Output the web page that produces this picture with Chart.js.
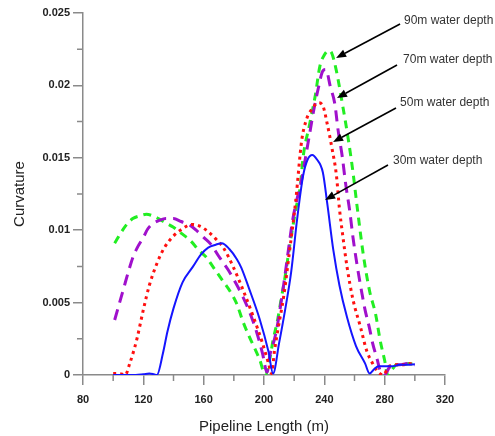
<!DOCTYPE html>
<html>
<head>
<meta charset="utf-8">
<script src="https://cdn.jsdelivr.net/npm/chart.js@4.4.1/dist/chart.umd.min.js"></script>
<style>
  html, body { margin: 0; padding: 0; background: #fff; }
  #wrap { width: 495px; height: 436px; }
</style>
</head>
<body>
<div id="wrap"><canvas id="curvature"></canvas></div>
<script>
// Curvature along the pipeline for four water depths
const depth30X = [100, 105, 110, 115, 120, 124, 127, 129, 133, 136, 140, 146, 153, 158, 163, 168, 172, 177, 182, 185, 190, 197, 203, 206, 210, 214, 218, 222, 226, 229, 232, 235, 239, 242, 246, 250, 255, 261, 267, 270, 273, 276, 280, 285, 290, 295, 300];
const depth30Y = [0, 0, 0, 0, 0.00005, 0.0001, 0.00005, 0, 0.0015, 0.003, 0.0046, 0.0064, 0.0075, 0.0083, 0.0088, 0.009, 0.0091, 0.0087, 0.008, 0.0074, 0.006, 0.0039, 0.0016, 0.0001, 0.0022, 0.0045, 0.0071, 0.0108, 0.0138, 0.0149, 0.0152, 0.0149, 0.014, 0.0118, 0.0086, 0.0062, 0.004, 0.002, 0.0008, 0.0001, 0.0004, 0.0006, 0.0006, 0.0006, 0.0007, 0.0007, 0.00075];

const depth50X = [100, 104, 108, 111, 114, 116, 120, 124, 129, 134, 140, 146, 152, 157, 163, 168, 173, 179, 186, 193, 199, 203, 205, 207, 209, 213, 217, 221, 225, 228, 232, 236, 239, 242, 245, 248, 250, 252, 255, 259, 264, 268, 272, 275, 279, 283, 287, 292, 296, 300];
const depth50Y = [0.0001, 0.0001, 0, 0.0008, 0.0018, 0.0026, 0.0045, 0.0062, 0.0077, 0.0088, 0.0096, 0.0101, 0.0104, 0.0103, 0.0099, 0.0094, 0.0088, 0.0076, 0.0059, 0.004, 0.0022, 0.0008, 0.0001, 0.0017, 0.003, 0.0054, 0.0086, 0.012, 0.0162, 0.0176, 0.0184, 0.0188, 0.0186, 0.0173, 0.0157, 0.0138, 0.0115, 0.0098, 0.0075, 0.0052, 0.0033, 0.0017, 0.0008, 0.0003, 0, 0.0006, 0.0007, 0.0007, 0.0008, 0.0007];

const depth70X = [101, 104, 107, 110, 113, 116, 120, 123, 127, 131, 135, 140, 145, 150, 155, 160, 165, 170, 176, 181, 186, 191, 195, 199, 202, 204, 207, 209, 213, 216, 219, 222, 225, 227, 230, 233, 236, 239, 241, 244, 247, 249, 252, 254, 257, 259, 262, 265, 267, 270, 272, 275, 277, 280, 283, 286, 290, 295, 300];
const depth70Y = [0.0038, 0.0049, 0.006, 0.0071, 0.0081, 0.0088, 0.0095, 0.0101, 0.0105, 0.0107, 0.0108, 0.0108, 0.0106, 0.0104, 0.01, 0.0095, 0.009, 0.0082, 0.0073, 0.0064, 0.0054, 0.0042, 0.003, 0.0015, 0.0002, 0.0014, 0.0025, 0.0035, 0.0062, 0.0085, 0.0107, 0.0122, 0.0135, 0.0147, 0.0165, 0.0183, 0.0198, 0.021, 0.0211, 0.0199, 0.0187, 0.017, 0.015, 0.0133, 0.0112, 0.0095, 0.0074, 0.0056, 0.0045, 0.0032, 0.0022, 0.0011, 0.0003, 0, 0.0005, 0.0007, 0.0007, 0.0008, 0.0007];

const depth90X = [101, 105, 109, 113, 118, 122, 126, 130, 135, 140, 145, 151, 157, 162, 166, 172, 178, 182, 186, 190, 194, 197, 201, 204, 206, 209, 211, 214, 217, 221, 224, 226, 230, 234, 237, 240, 243, 245, 248, 252, 256, 259, 262, 266, 270, 274, 277, 280, 282, 285, 288, 292, 296, 300];
const depth90Y = [0.0091, 0.0098, 0.0104, 0.0108, 0.011, 0.0111, 0.011, 0.0108, 0.0105, 0.0102, 0.0098, 0.0093, 0.0086, 0.0081, 0.0075, 0.0066, 0.0057, 0.0049, 0.0037, 0.0027, 0.0018, 0.0011, 0, 0.0012, 0.0024, 0.0038, 0.005, 0.0068, 0.0089, 0.0114, 0.013, 0.0151, 0.0172, 0.0193, 0.0213, 0.0221, 0.0224, 0.0222, 0.021, 0.0187, 0.0162, 0.014, 0.0114, 0.0082, 0.0058, 0.0042, 0.0024, 0.001, 0, 0.0004, 0.0007, 0.0007, 0.0008, 0.0007];

const xTicks = [80, 120, 160, 200, 240, 280, 320];
const yTicks = [0, 0.005, 0.01, 0.015, 0.02, 0.025];

// label text, arrow tail, arrow tip and text anchor in data units
const callouts = [
    { text: '90m water depth', tail: [290.2, 0.02424], tip: [247.8, 0.0219], at: [292.8, 0.0245] },
    { text: '70m water depth', tail: [288.2, 0.02141], tip: [248.4, 0.01913], at: [292.2, 0.02175] },
    { text: '50m water depth', tail: [287.5, 0.01844], tip: [245.8, 0.01609], at: [290.2, 0.01878] },
    { text: '30m water depth', tail: [282.2, 0.0145], tip: [240.5, 0.01209], at: [285.5, 0.01478] }
];

function toPoints(xs, ys) {
    return xs.map((x, i) => ({ x: x, y: ys[i] }));
}

const axisGray = '#8a8a8a';

// small ticks halfway between the labelled ones
const minorTicks = {
    id: 'minorTicks',
    afterDraw(chart) {
        const { ctx, scales: { x, y } } = chart;
        ctx.save();
        ctx.strokeStyle = axisGray;
        ctx.lineWidth = 1.5;
        ctx.beginPath();
        for (let i = 0; i < xTicks.length - 1; i++) {
            const px = x.getPixelForValue((xTicks[i] + xTicks[i + 1]) / 2);
            ctx.moveTo(px, y.bottom);
            ctx.lineTo(px, y.bottom + 6);
        }
        for (let i = 0; i < yTicks.length - 1; i++) {
            const py = y.getPixelForValue((yTicks[i] + yTicks[i + 1]) / 2);
            ctx.moveTo(x.left, py);
            ctx.lineTo(x.left - 6, py);
        }
        ctx.stroke();
        ctx.restore();
    }
};

// depth labels with arrows pointing at each curve
const depthCallouts = {
    id: 'depthCallouts',
    afterDraw(chart) {
        const { ctx, scales: { x, y } } = chart;
        ctx.save();
        ctx.strokeStyle = '#000';
        ctx.fillStyle = '#000';
        ctx.lineWidth = 1.6;
        for (const c of callouts) {
            const x0 = x.getPixelForValue(c.tail[0]), y0 = y.getPixelForValue(c.tail[1]);
            const x1 = x.getPixelForValue(c.tip[0]), y1 = y.getPixelForValue(c.tip[1]);
            const ang = Math.atan2(y1 - y0, x1 - x0);
            const head = 10, half = 4;
            const bx = x1 - head * Math.cos(ang), by = y1 - head * Math.sin(ang);
            ctx.beginPath();
            ctx.moveTo(x0, y0);
            ctx.lineTo(bx, by);
            ctx.stroke();
            ctx.beginPath();
            ctx.moveTo(x1, y1);
            ctx.lineTo(bx + half * Math.sin(ang), by - half * Math.cos(ang));
            ctx.lineTo(bx - half * Math.sin(ang), by + half * Math.cos(ang));
            ctx.closePath();
            ctx.fill();
        }
        ctx.fillStyle = '#333';
        ctx.font = '12px "Liberation Sans", Arial, sans-serif';
        ctx.textBaseline = 'middle';
        ctx.textAlign = 'left';
        for (const c of callouts) {
            ctx.fillText(c.text, x.getPixelForValue(c.at[0]), y.getPixelForValue(c.at[1]));
        }
        ctx.restore();
    }
};

const tickFont = { family: '"Liberation Sans", Arial, sans-serif', size: 11, weight: 'bold' };
const titleFont = { family: '"Liberation Sans", Arial, sans-serif', size: 15 };

const lineBase = { showLine: true, pointRadius: 0, cubicInterpolationMode: 'monotone' };

new Chart(document.getElementById('curvature'), {
    type: 'scatter',
    data: {
        datasets: [
            { ...lineBase, label: '30m', data: toPoints(depth30X, depth30Y), borderColor: '#1515ff', borderWidth: 2 },
            { ...lineBase, label: '50m', data: toPoints(depth50X, depth50Y), borderColor: '#ff1010', borderWidth: 3, borderDash: [3, 4] },
            { ...lineBase, label: '70m', data: toPoints(depth70X, depth70Y), borderColor: '#a010cc', borderWidth: 3, borderDash: [11, 7] },
            { ...lineBase, label: '90m', data: toPoints(depth90X, depth90Y), borderColor: '#22ee22', borderWidth: 3, borderDash: [8, 6] }
        ]
    },
    options: {
        responsive: true,
        maintainAspectRatio: false,
        animation: false,
        layout: { padding: { top: 13, right: 50, left: 0, bottom: 0 } },
        plugins: {
            legend: { display: false },
            tooltip: { enabled: false }
        },
        scales: {
            x: {
                type: 'linear',
                min: 80,
                max: 320,
                afterBuildTicks: (scale) => { scale.ticks = xTicks.map(v => ({ value: v })); },
                afterFit: (scale) => { scale.height = 61; },
                ticks: { font: tickFont, color: '#222', padding: 8, maxRotation: 0 },
                grid: { drawOnChartArea: false, drawTicks: true, tickLength: 10, color: axisGray, lineWidth: 1.5 },
                border: { display: true, color: axisGray, width: 1.5 },
                title: { display: true, text: 'Pipeline Length (m)', font: titleFont, color: '#222', padding: { top: 3, bottom: 0 } }
            },
            y: {
                type: 'linear',
                min: 0,
                max: 0.025,
                afterBuildTicks: (scale) => { scale.ticks = yTicks.map(v => ({ value: v })); },
                afterFit: (scale) => { scale.width = 83; },
                ticks: { font: tickFont, color: '#222', padding: 3, callback: (v) => String(+v.toFixed(3)) },
                grid: { drawOnChartArea: false, drawTicks: true, tickLength: 10, color: axisGray, lineWidth: 1.5 },
                border: { display: true, color: axisGray, width: 1.5 },
                title: { display: true, text: 'Curvature', font: titleFont, color: '#222', padding: { top: 11, bottom: 0 } }
            }
        }
    },
    plugins: [minorTicks, depthCallouts]
});
</script>
</body>
</html>
